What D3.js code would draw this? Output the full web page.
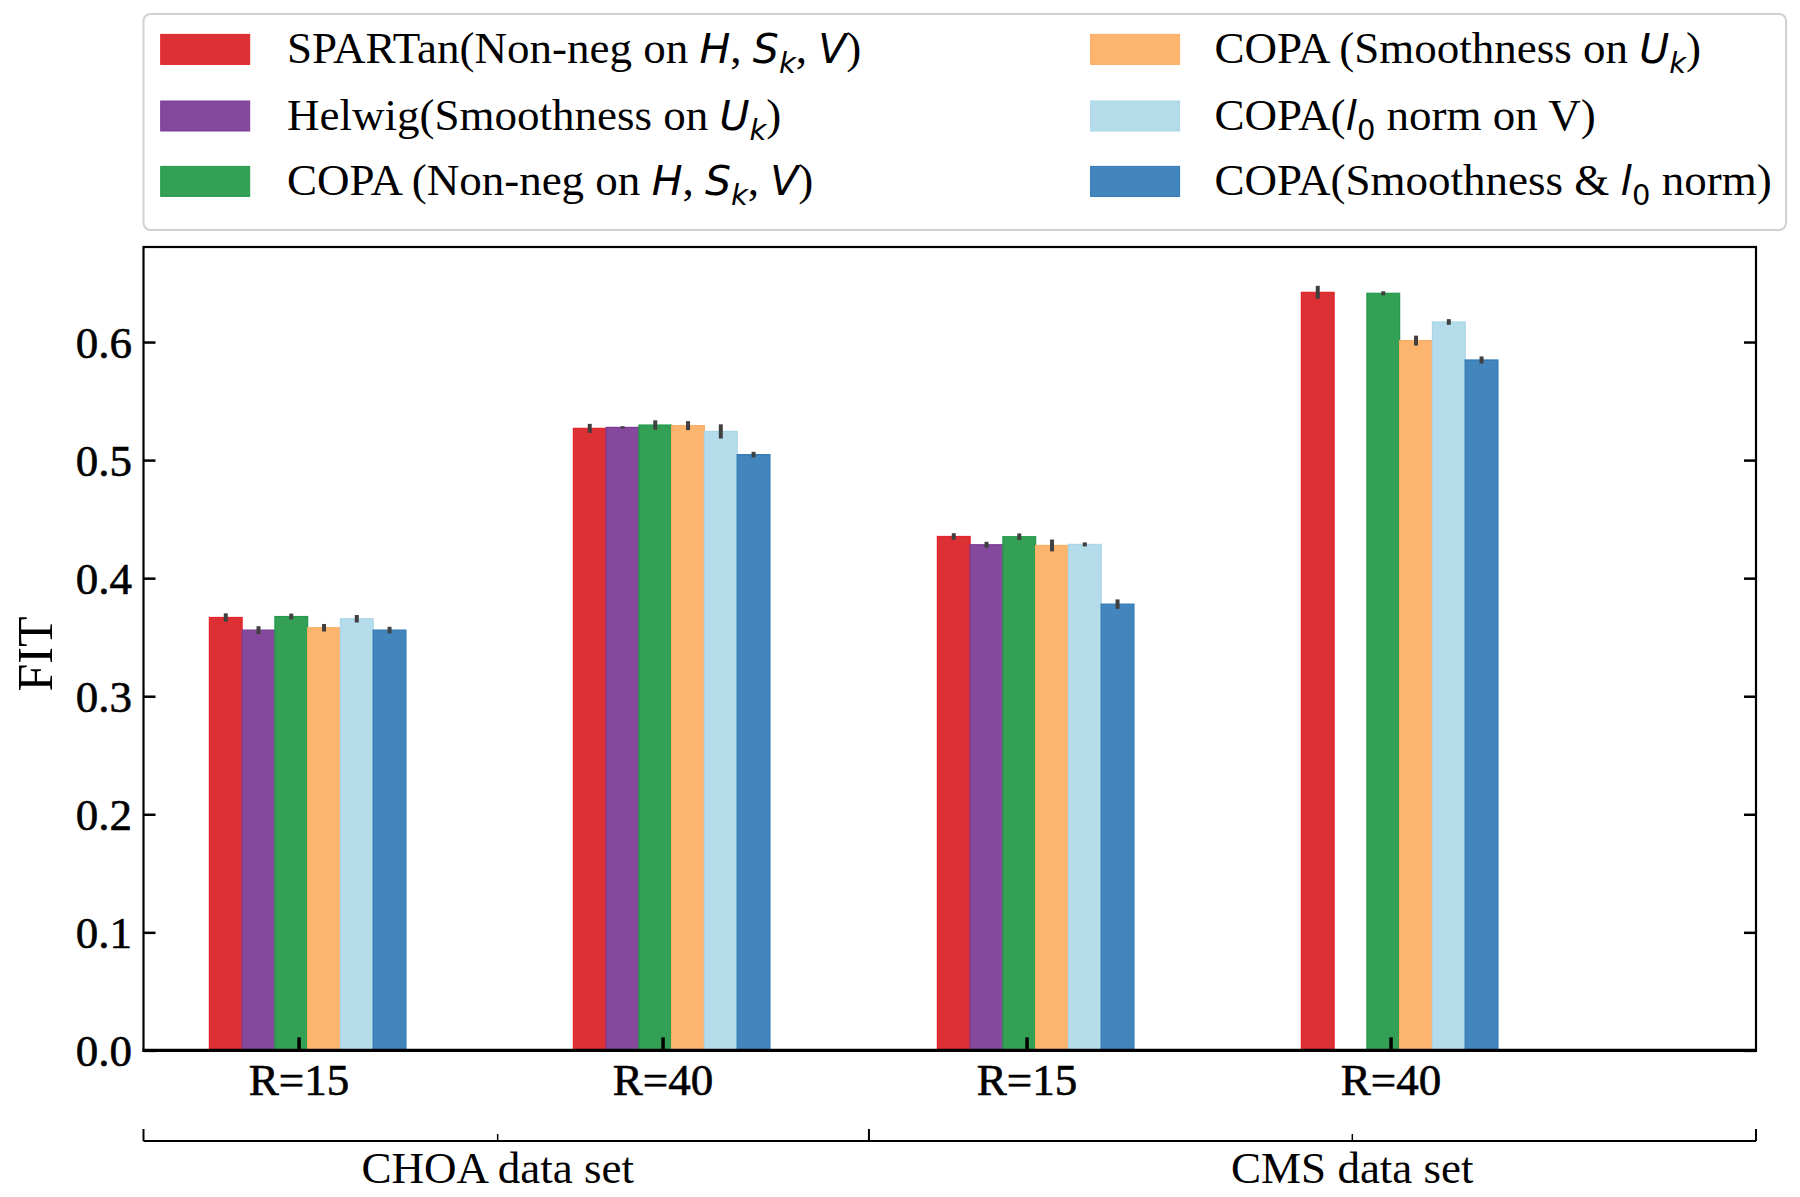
<!DOCTYPE html>
<html>
<head>
<meta charset="utf-8">
<script src="https://cdn.jsdelivr.net/npm/d3@7"></script>
<style>
  html, body { margin: 0; padding: 0; background: #fff; }
  svg { display: block; }
</style>
</head>
<body>
<svg id="chart" width="1800" height="1197"></svg>
<script>
// ---------------- DATA ----------------
const groups = ["R=15", "R=40", "R=15", "R=40"];
const datasets = ["CHOA data set", "CMS data set"];
const yTicks = [0.0, 0.1, 0.2, 0.3, 0.4, 0.5, 0.6];

const seriesKeys = ["spartan", "helwig", "copaNonneg", "copaSmooth", "copaL0", "copaBoth"];
const spartan     = [0.3667, 0.5269, 0.4353, 0.6421];
const helwig      = [0.3560, 0.5277, 0.4283, null];
const copaNonneg  = [0.3675, 0.5297, 0.4351, 0.6413];
const copaSmooth  = [0.3580, 0.5292, 0.4277, 0.6012];
const copaL0      = [0.3656, 0.5243, 0.4286, 0.6170];
const copaBoth    = [0.3560, 0.5046, 0.3780, 0.5848];

const spartanErr    = [0.0035, 0.0038, 0.0028, 0.0055];
const helwigErr     = [0.0033, 0.0010, 0.0025, null];
const copaNonnegErr = [0.0025, 0.0040, 0.0028, 0.0017];
const copaSmoothErr = [0.0032, 0.0038, 0.0050, 0.0042];
const copaL0Err     = [0.0032, 0.0060, 0.0017, 0.0024];
const copaBothErr   = [0.0028, 0.0024, 0.0040, 0.0030];

const colors = ["#dc3035", "#84489c", "#33a055", "#fdb46f", "#b4dcea", "#4286bd"];
const edgeColors = ["#e3262b", "#7b3b95", "#219b49", "#fbae64", "#a9d6e8", "#2f78b5"];

const values = [spartan, helwig, copaNonneg, copaSmooth, copaL0, copaBoth];
const errors = [spartanErr, helwigErr, copaNonnegErr, copaSmoothErr, copaL0Err, copaBothErr];

// ---------------- LAYOUT ----------------
const svg = d3.select("#chart");
const L = 143.5, R = 1756, T = 247, B = 1050.4;
const serif = "'Liberation Serif', 'Times New Roman', serif";
const math = "'DejaVu Sans', sans-serif";

const x = d3.scaleLinear().domain([-0.426, 4.004]).range([L, R]);
const y = d3.scaleLinear().domain([0, 0.6805]).range([B, T]);
const barW = 0.09;
const barOff = i => -0.2 + barW * i;

// bars
const g = svg.append("g");
values.forEach((vals, si) => {
  vals.forEach((v, gi) => {
    if (v == null) return;
    const cx = gi + barOff(si);
    g.append("rect")
      .attr("x", x(cx - barW / 2))
      .attr("y", y(v))
      .attr("width", x(cx + barW / 2) - x(cx - barW / 2))
      .attr("height", y(0) - y(v))
      .attr("fill", colors[si])
      .attr("stroke", edgeColors[si])
      .attr("stroke-width", 1.2);
  });
});
// error bars
values.forEach((vals, si) => {
  vals.forEach((v, gi) => {
    if (v == null) return;
    const e = errors[si][gi];
    const cx = x(gi + barOff(si));
    g.append("line")
      .attr("x1", cx).attr("x2", cx)
      .attr("y1", y(v - e)).attr("y2", y(v + e))
      .attr("stroke", "#404040")
      .attr("stroke-width", 4);
  });
});

// frame
svg.append("rect")
  .attr("x", L).attr("y", T).attr("width", R - L).attr("height", B - T)
  .attr("fill", "none").attr("stroke", "#000").attr("stroke-width", 2.2);
svg.append("line").attr("x1", L - 1).attr("x2", R + 1).attr("y1", B).attr("y2", B)
  .attr("stroke", "#000").attr("stroke-width", 3.2);

// y ticks (inward, both sides)
const yAxisL = d3.axisLeft(y).tickValues(yTicks).tickFormat(d3.format(".1f")).tickSizeInner(-12).tickSizeOuter(0).tickPadding(11.5);
const gyl = svg.append("g").attr("transform", `translate(${L},0)`).call(yAxisL);
gyl.select(".domain").remove();
gyl.selectAll(".tick line").attr("stroke", "#000").attr("stroke-width", 2.5);
gyl.selectAll(".tick text").attr("font-family", serif).attr("font-size", 45).attr("fill", "#000")
  .attr("stroke", "#000").attr("stroke-width", 0.6).attr("dy", "0.34em");

const yAxisR = d3.axisRight(y).tickValues(yTicks).tickFormat("").tickSizeInner(-12).tickSizeOuter(0);
const gyr = svg.append("g").attr("transform", `translate(${R},0)`).call(yAxisR);
gyr.select(".domain").remove();
gyr.selectAll(".tick line").attr("stroke", "#000").attr("stroke-width", 2.5);

// x ticks
const xAxis = d3.axisBottom(x).tickValues([0, 1, 2, 3]).tickFormat((d, i) => groups[i]).tickSizeInner(-13).tickSizeOuter(0);
const gx = svg.append("g").attr("transform", `translate(0,${B})`).call(xAxis);
gx.select(".domain").remove();
gx.selectAll(".tick line").attr("stroke", "#000").attr("stroke-width", 3.5);
gx.selectAll(".tick text").attr("font-family", serif).attr("font-size", 45).attr("fill", "#000")
  .attr("stroke", "#000").attr("stroke-width", 0.6)
  .attr("y", 45).attr("dy", 0);

// y label
svg.append("text")
  .attr("transform", `translate(52,${654}) rotate(-90)`)
  .attr("text-anchor", "middle")
  .attr("font-family", serif).attr("font-size", 50)
  .text("FIT");

// secondary dataset axis
const yb = 1141;
const sec = svg.append("g");
sec.append("line").attr("x1", L).attr("x2", R).attr("y1", yb).attr("y2", yb).attr("stroke", "#000").attr("stroke-width", 2.2);
const mid = x(1.567);
[L, mid, R].forEach(px => sec.append("line").attr("x1", px).attr("x2", px).attr("y1", yb).attr("y2", yb - 12).attr("stroke", "#000").attr("stroke-width", 2));
const dsCenters = [x(0.547), x(2.895)];
dsCenters.forEach((px, i) => {
  sec.append("line").attr("x1", px).attr("x2", px).attr("y1", yb).attr("y2", yb - 7).attr("stroke", "#000").attr("stroke-width", 1.5);
  sec.append("text").attr("x", px).attr("y", 1183).attr("text-anchor", "middle")
    .attr("font-family", serif).attr("font-size", 45).text(datasets[i]);
});

// ---------------- LEGEND ----------------
const legendItems = [
  [{t: "SPARTan(Non-neg on "}, {t: "H", m: 1}, {t: ", "}, {t: "S", m: 1}, {t: "k", m: 1, sub: 1}, {t: ", "}, {t: "V", m: 1}, {t: ")"}],
  [{t: "Helwig(Smoothness on "}, {t: "U", m: 1}, {t: "k", m: 1, sub: 1}, {t: ")"}],
  [{t: "COPA (Non-neg on "}, {t: "H", m: 1}, {t: ", "}, {t: "S", m: 1}, {t: "k", m: 1, sub: 1}, {t: ", "}, {t: "V", m: 1}, {t: ")"}],
  [{t: "COPA (Smoothness on "}, {t: "U", m: 1}, {t: "k", m: 1, sub: 1}, {t: ")"}],
  [{t: "COPA("}, {t: "l", m: 1}, {t: "0", m: 2, sub: 1}, {t: " norm on V)"}],
  [{t: "COPA(Smoothness & "}, {t: "l", m: 1}, {t: "0", m: 2, sub: 1}, {t: " norm)"}]
];
const lg = svg.append("g");
lg.append("rect").attr("x", 143.5).attr("y", 14).attr("width", 1786 - 143.5).attr("height", 230 - 14)
  .attr("rx", 7).attr("fill", "#fff").attr("stroke", "#d0d0d0").attr("stroke-width", 2);
const rowY = [49.4, 116, 181.4];
const colSw = [160.7, 1090.6];
const colTx = [287, 1214.6];
legendItems.forEach((parts, i) => {
  const col = Math.floor(i / 3), row = i % 3;
  lg.append("rect").attr("x", colSw[col]).attr("y", rowY[row] - 15).attr("width", 89).attr("height", 30)
    .attr("fill", colors[i]).attr("stroke", edgeColors[i]).attr("stroke-width", 1);
  const txt = lg.append("text").attr("x", colTx[col]).attr("y", rowY[row] + 14)
    .attr("font-family", serif).attr("font-size", 45).attr("fill", "#000");
  let prevSub = false;
  parts.forEach(p => {
    const ts = txt.append("tspan").text(p.t);
    if (p.m) {
      ts.attr("font-family", math).attr("font-size", p.sub ? 29 : 41);
      if (p.m === 1) ts.attr("font-style", "italic");
    }
    if (p.sub && !prevSub) ts.attr("dy", 10);
    else if (!p.sub && prevSub) ts.attr("dy", -10);
    prevSub = !!p.sub;
  });
});
</script>
</body>
</html>
